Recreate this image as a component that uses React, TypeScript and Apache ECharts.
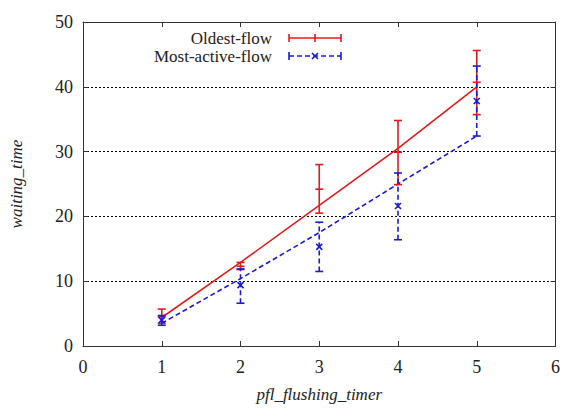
import React, { useEffect, useRef } from "react";
import * as echarts from "echarts";

const xTicks = [0, 1, 2, 3, 4, 5, 6];
const xs = [1, 2, 3, 4, 5];
const seriesNames = ["Oldest-flow", "Most-active-flow"];

// fitted lines
const oldestLine = [4.4, 12.9, 21.7, 30.5, 40.0];
const activeLine = [3.5, 10.4, 17.5, 25.0, 32.4];

// error bars: low, mid, high
const oldestLow = [3.5, 11.8, 20.5, 24.9, 35.7];
const oldestMid = [4.5, 12.3, 24.2, 29.9, 40.7];
const oldestHigh = [5.7, 12.9, 28.0, 34.8, 45.6];

const activeLow = [3.2, 6.6, 11.5, 16.4, 32.4];
const activeMid = [4.0, 9.4, 15.3, 21.6, 37.8];
const activeHigh = [4.7, 11.9, 19.1, 26.7, 43.2];

const RED = "#e41a1c";
const BLUE = "#1a1ad8";
const FONT = "'Liberation Serif', 'Times New Roman', serif";

function errRender(color: string, dashed: boolean, markX: boolean) {
  return (params: any, api: any) => {
    const x = api.value(0);
    const lo = api.coord([x, api.value(1)]);
    const mid = api.coord([x, api.value(2)]);
    const hi = api.coord([x, api.value(3)]);
    const w = 4;
    const st = { stroke: color, lineWidth: 1.6, lineDash: dashed ? [5, 3] : null };
    const cap = { stroke: color, lineWidth: 1.6 };
    const children: any[] = [
      { type: "line", shape: { x1: lo[0], y1: lo[1], x2: hi[0], y2: hi[1] }, style: st },
      { type: "line", shape: { x1: lo[0] - w, y1: lo[1], x2: lo[0] + w, y2: lo[1] }, style: cap },
      { type: "line", shape: { x1: hi[0] - w, y1: hi[1], x2: hi[0] + w, y2: hi[1] }, style: cap },
    ];
    if (markX) {
      const m = 3;
      children.push(
        { type: "line", shape: { x1: mid[0] - m, y1: mid[1] - m, x2: mid[0] + m, y2: mid[1] + m }, style: cap },
        { type: "line", shape: { x1: mid[0] - m, y1: mid[1] + m, x2: mid[0] + m, y2: mid[1] - m }, style: cap }
      );
    } else {
      children.push({ type: "line", shape: { x1: mid[0] - w, y1: mid[1], x2: mid[0] + w, y2: mid[1] }, style: cap });
    }
    return { type: "group", children };
  };
}

export default function App() {
  const ref = useRef<HTMLDivElement>(null);
  useEffect(() => {
    const chart = echarts.init(ref.current!, null, { renderer: "svg" });
    const axisCommon = {
      min: 0,
      interval: 1,
      axisLine: { show: true, onZero: false, lineStyle: { color: "#333", width: 1 } },
      axisTick: { show: true, inside: true, length: 5, lineStyle: { color: "#333" } },
    };
    const legendY = [38, 56];
    const legendColors = [RED, BLUE];
    const graphic: any[] = [];
    seriesNames.forEach((n, i) => {
      const y = legendY[i];
      graphic.push({
        type: "text",
        x: 272,
        y,
        style: { text: n, fontSize: 17, fontFamily: FONT, fill: "#222", align: "right", verticalAlign: "middle" },
      });
      graphic.push({
        type: "line",
        shape: { x1: 289, y1: y, x2: 341, y2: y },
        style: { stroke: legendColors[i], lineWidth: 1.6, lineDash: i === 1 ? [5, 3] : null },
      });
      graphic.push({ type: "line", shape: { x1: 289, y1: y - 4, x2: 289, y2: y + 4 }, style: { stroke: legendColors[i], lineWidth: 1.6 } });
      graphic.push({ type: "line", shape: { x1: 341, y1: y - 4, x2: 341, y2: y + 4 }, style: { stroke: legendColors[i], lineWidth: 1.6 } });
      if (i === 0) {
        graphic.push({ type: "line", shape: { x1: 315, y1: y - 4, x2: 315, y2: y + 4 }, style: { stroke: RED, lineWidth: 1.6 } });
      } else {
        graphic.push({ type: "line", shape: { x1: 312, y1: y - 3, x2: 318, y2: y + 3 }, style: { stroke: BLUE, lineWidth: 1.6 } });
        graphic.push({ type: "line", shape: { x1: 312, y1: y + 3, x2: 318, y2: y - 3 }, style: { stroke: BLUE, lineWidth: 1.6 } });
      }
    });
    chart.setOption({
      animation: false,
      backgroundColor: "#fff",
      grid: { left: 82, right: 6, top: 22, bottom: 57, show: false },
      textStyle: { fontFamily: FONT },
      xAxis: [
        {
          type: "value",
          ...axisCommon,
          max: 6,
          position: "bottom",
          axisLabel: { show: true, color: "#222", fontSize: 18, fontFamily: FONT, margin: 12 },
          splitLine: { show: false },
          name: "pfl_flushing_timer",
          nameLocation: "middle",
          nameGap: 40,
          nameTextStyle: { fontStyle: "italic", fontSize: 17, color: "#222", fontFamily: FONT },
        },
        {
          type: "value",
          ...axisCommon,
          max: 6,
          position: "top",
          axisLabel: { show: false },
          splitLine: { show: false },
        },
      ],
      yAxis: [
        {
          type: "value",
          ...axisCommon,
          max: 50,
          interval: 10,
          position: "left",
          axisLabel: { show: true, color: "#222", fontSize: 18, fontFamily: FONT, margin: 10 },
          splitLine: { show: true, lineStyle: { color: "#000", type: [2, 2], width: 1 } },
          name: "waiting_time",
          nameLocation: "middle",
          nameGap: 58,
          nameTextStyle: { fontStyle: "italic", fontSize: 17, color: "#222", fontFamily: FONT },
        },
        {
          type: "value",
          ...axisCommon,
          max: 50,
          interval: 10,
          position: "right",
          axisLabel: { show: false },
          splitLine: { show: false },
        },
      ],
      series: [
        {
          name: seriesNames[0],
          type: "line",
          data: xs.map((x, i) => [x, oldestLine[i]]),
          symbol: "none",
          lineStyle: { color: RED, width: 1.6 },
          z: 3,
        },
        {
          name: seriesNames[1],
          type: "line",
          data: xs.map((x, i) => [x, activeLine[i]]),
          symbol: "none",
          lineStyle: { color: BLUE, width: 1.6, type: [5, 3] },
          z: 3,
        },
        {
          type: "custom",
          data: xs.map((x, i) => [x, oldestLow[i], oldestMid[i], oldestHigh[i]]),
          encode: { x: 0, y: [1, 3] },
          renderItem: errRender(RED, false, false),
          z: 4,
        },
        {
          type: "custom",
          data: xs.map((x, i) => [x, activeLow[i], activeMid[i], activeHigh[i]]),
          encode: { x: 0, y: [1, 3] },
          renderItem: errRender(BLUE, true, true),
          z: 5,
        },
      ],
      graphic,
    });
    return () => chart.dispose();
  }, []);
  return <div ref={ref} style={{ width: 563, height: 408, position: "absolute", left: 0, top: 0 }} />;
}
